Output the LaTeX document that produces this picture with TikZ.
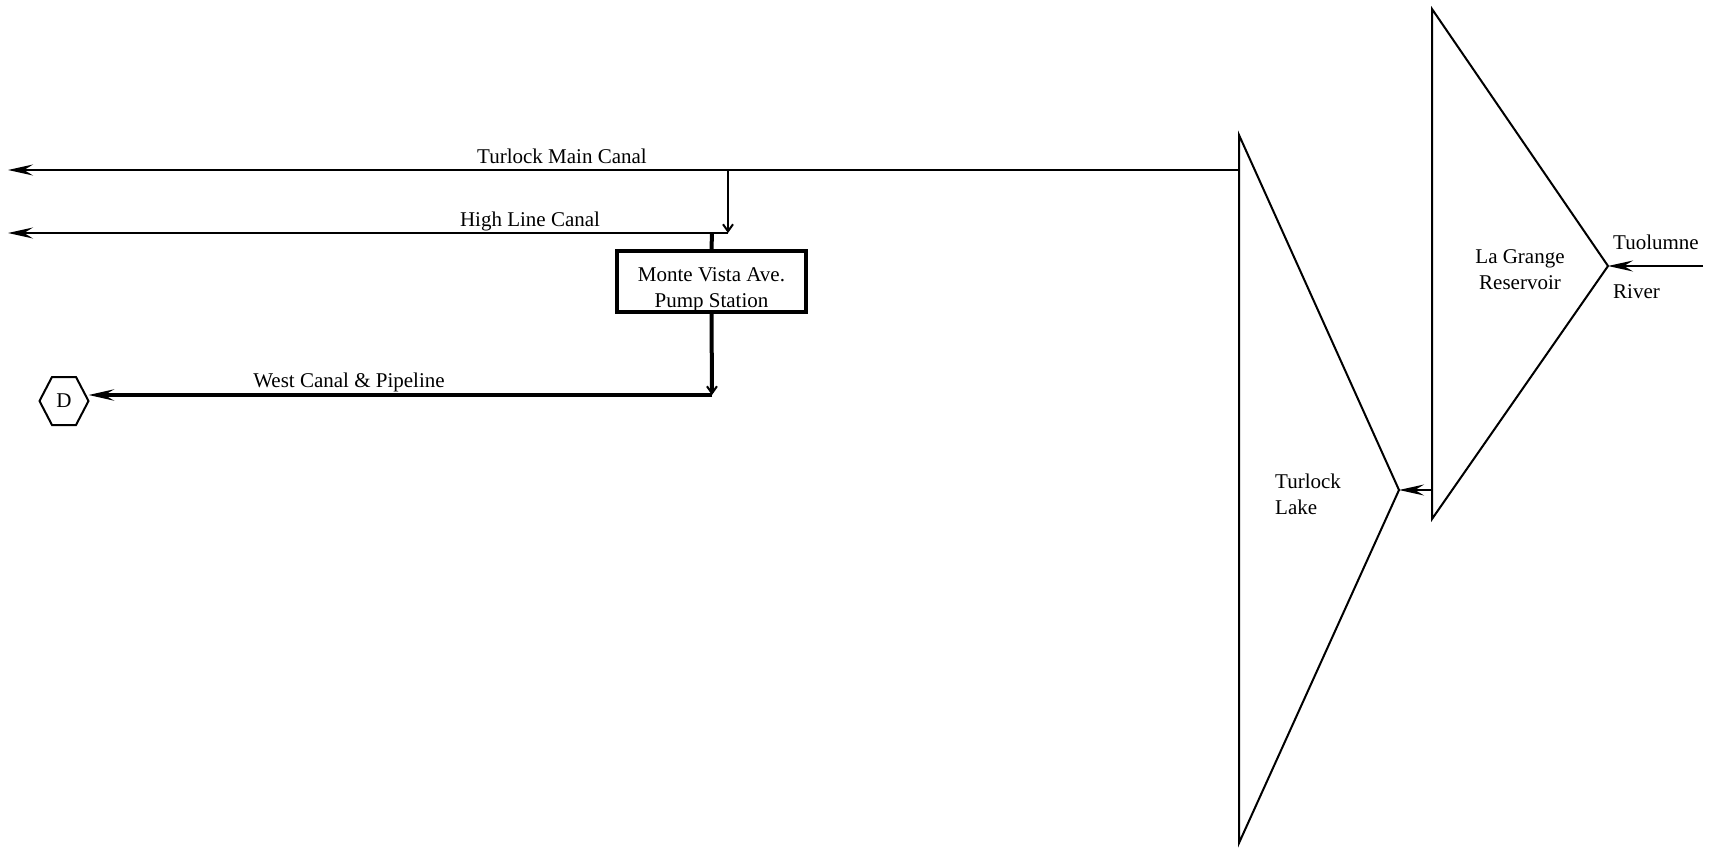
\documentclass[tikz,border=0pt]{standalone}
\usepackage{fontspec}
\setmainfont{Liberation Serif}
\usetikzlibrary{arrows.meta}
\tikzset{
  bigtip/.tip={Stealth[length=25pt,width=11pt,inset=9pt]},
  smalltip/.tip={Straight Barb[length=7pt,width=10pt,line width=2pt]},
  thinline/.style={line width=2pt},
  thickline/.style={line width=4pt},
  lbl/.style={font=\fontsize{21}{26}\selectfont, inner sep=0pt},
}
\begin{document}
\begin{tikzpicture}[x=1pt,y=-1pt]
\useasboundingbox (0,0) rectangle (1721,848);
% coordinates
\coordinate (tlA) at (1239,135);
\coordinate (tlB) at (1399,490);
\coordinate (tlC) at (1239,843);
\coordinate (lgA) at (1432,9);
\coordinate (lgB) at (1608,266);
\coordinate (lgC) at (1432,519);
\coordinate (river) at (1703,266);
\coordinate (mcStart) at (1239,170);
\coordinate (mcEnd) at (8,170);
\coordinate (br) at (728,170);
\coordinate (brEnd) at (728,233);
\coordinate (hlEnd) at (8,233);
\coordinate (pj) at (712,233);
\coordinate (wc) at (712,395);
\coordinate (Dtip) at (88.5,395);
% reservoirs
\draw[thinline] (tlA) -- (tlB) -- (tlC) -- cycle;
\draw[thinline] (lgA) -- (lgB) -- (lgC) -- cycle;
% labels
\node[lbl] (tmc) at (562,156) {Turlock Main Canal};
\node[lbl] (hlc) at (530,221) {High Line Canal};
\node[lbl] (wcp) at (349,382) {West Canal \& Pipeline};
\node[lbl, anchor=west] (tuo) at (1613,242) {Tuolumne};
\node[lbl, anchor=west] (riv) at (1613,292) {River};
\node[lbl, align=center] (lgr) at (1520,270) {La Grange\\Reservoir};
\node[lbl, align=left, anchor=west] (tlk) at (1275,494) {Turlock\\Lake};
\node[lbl, draw, line width=4pt, minimum width=189pt, minimum height=61pt] (pump) at (711.5,281.5)
  {\raisebox{-8pt}[\height][\depth]{\begin{tabular}{@{}c@{}}Monte Vista Ave.\\Pump Station\end{tabular}}};
\node[lbl] (D) at (64,401) {D};
\draw[thinline] ([xshift=-24.5pt]D.center) -- ++(12.5,-24) -- ++(24,0) -- ++(12.5,24) -- ++(-12.5,24) -- ++(-24,0) -- cycle;
% connectors
\draw[thinline,-bigtip] (river) -- (lgB);
\draw[thinline,-bigtip] (lgA |- tlB) -- (tlB);
\draw[thinline,-bigtip] (mcStart) -- (mcEnd);
\draw[thinline,-smalltip] (br) -- (brEnd);
\draw[thinline,-bigtip] (brEnd) -- (hlEnd);
\draw[thickline] (pj) -- (pump.north);
\draw[thickline,-smalltip] (pump.south) -- (wc);
\draw[thickline,-bigtip] (wc) -- (Dtip);
\end{tikzpicture}
\end{document}
